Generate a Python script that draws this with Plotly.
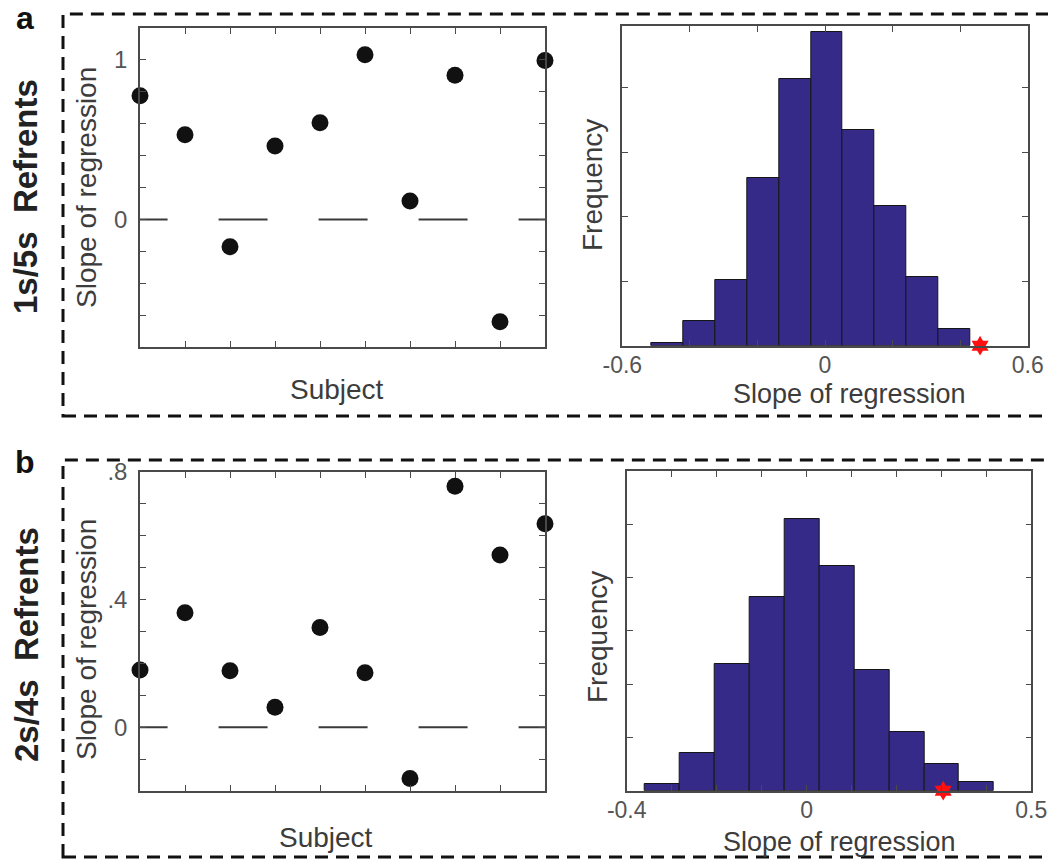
import plotly.graph_objects as go

W, H = 1048, 865

# ---------------- data ----------------
subjects = list(range(1, 11))
slopes_a = [0.775, 0.531, -0.171, 0.460, 0.606, 1.033, 0.115, 0.904, -0.642, 0.996]
slopes_b = [0.179, 0.359, 0.177, 0.0625, 0.3125, 0.171, -0.161, 0.755, 0.540, 0.6375]

hist_a_counts = [2, 19, 51, 130, 207, 243, 167, 108, 53, 13]
hist_a_lo, hist_a_hi = -0.513, 0.429
hist_a_observed = 0.459

hist_b_counts = [6, 35, 119, 182, 255, 211, 113, 55, 25, 8]
hist_b_lo, hist_b_hi = -0.359, 0.417
hist_b_observed = 0.304

row_labels = ["1s/5s  Refrents", "2s/4s  Refrents"]
panel_letters = ["a", "b"]

FONT = "Liberation Sans, Arial, Helvetica, sans-serif"
BAR_COLOR = "#352a87"
AX_COLOR = "#4a4a4a"
TXT_COLOR = "#3c3c3c"
TICK_COLOR = "#555555"


def px_x(p):
    return p / W


def px_y(p):
    return 1 - p / H


def bins(lo, hi, n):
    w = (hi - lo) / n
    return [lo + w * (i + 0.5) for i in range(n)], w


fig = go.Figure()

# ------------- domains (pixel boxes) -------------
dom = {
    "sa": ([140, 545], [28, 347]),
    "ha": ([622.3, 1027.7], [26, 345.7]),
    "sb": ([140, 545], [472, 791]),
    "hb": ([626.7, 1031.3], [471, 790.7]),
}
axes_ids = {"sa": ("x", "y"), "ha": ("x2", "y2"), "sb": ("x3", "y3"), "hb": ("x4", "y4")}

# ------------- scatter panels -------------
ZERO_LINE_START = 0.524
for key, vals in (("sa", slopes_a), ("sb", slopes_b)):
    xa, ya = axes_ids[key]
    fig.add_trace(go.Scatter(
        x=[ZERO_LINE_START, subjects[-1]], y=[0, 0], mode="lines",
        line=dict(color="#3a3a3a", width=2, dash="49px,51px"),
        xaxis=xa, yaxis=ya, showlegend=False, hoverinfo="skip"))
    fig.add_trace(go.Scatter(
        x=subjects, y=vals, mode="markers",
        marker=dict(color="#111111", size=17),
        cliponaxis=False, xaxis=xa, yaxis=ya, showlegend=False))

# ------------- histogram panels -------------
for key, counts, lo, hi, obs in (("ha", hist_a_counts, hist_a_lo, hist_a_hi, hist_a_observed),
                                 ("hb", hist_b_counts, hist_b_lo, hist_b_hi, hist_b_observed)):
    xa, ya = axes_ids[key]
    centers, w = bins(lo, hi, len(counts))
    fig.add_trace(go.Bar(
        x=centers, y=counts, width=w,
        marker=dict(color=BAR_COLOR, line=dict(color="#151515", width=1)),
        xaxis=xa, yaxis=ya, showlegend=False))
    fig.add_trace(go.Scatter(
        x=[obs], y=[0], mode="markers",
        marker=dict(symbol="hexagram", color="#ff1010", size=15, line=dict(width=0)),
        cliponaxis=False, xaxis=xa, yaxis=ya, showlegend=False))


def axis_common(font_size=24):
    return dict(showline=True, linecolor=AX_COLOR, linewidth=1.6, mirror="ticks",
                ticks="inside", ticklen=6, tickwidth=1.3, tickcolor=AX_COLOR,
                showgrid=False, zeroline=False, automargin=False,
                tickfont=dict(family=FONT, size=font_size, color=TICK_COLOR))


def dx(key):
    (x0, x1), _ = dom[key]
    return [px_x(x0), px_x(x1)]


def dy(key):
    _, (y0, y1) = dom[key]
    return [px_y(y1), px_y(y0)]


def frange(a, b, step):
    out = []
    n = int(round((b - a) / step))
    for i in range(n + 1):
        out.append(round(a + i * step, 6))
    return out


layout_axes = {}
# scatter a
ya_ticks = frange(-0.8, 1.2, 0.2)
lab_a = {0.0: "0", 1.0: "1"}
layout_axes["xaxis"] = dict(domain=dx("sa"), range=[1, 10], tickvals=subjects,
                            ticktext=[""] * 10, anchor="y", **axis_common())
layout_axes["yaxis"] = dict(domain=dy("sa"), range=[-0.8, 1.2], tickvals=ya_ticks,
                            ticktext=[lab_a.get(round(t, 1), "") for t in ya_ticks],
                            anchor="x", ticklabelstandoff=6, **axis_common())
# hist a
hxa = frange(-0.6, 0.6, 0.2)
lab_ha = {-0.6: "-0.6", 0.0: "0", 0.6: "0.6"}
layout_axes["xaxis2"] = dict(domain=dx("ha"), range=[-0.6, 0.6], tickvals=hxa,
                             ticktext=[lab_ha.get(round(t, 1), "") for t in hxa],
                             anchor="y2", ticklabelstandoff=-2, **axis_common(23))
layout_axes["yaxis2"] = dict(domain=dy("ha"), range=[0, 248], tickvals=frange(0, 250, 50),
                             showticklabels=False, anchor="x2", **axis_common())
# scatter b
yb_ticks = frange(-0.2, 0.8, 0.1)
lab_b = {0.0: "0", 0.4: ".4", 0.8: ".8"}
layout_axes["xaxis3"] = dict(domain=dx("sb"), range=[1, 10], tickvals=subjects,
                             ticktext=[""] * 10, anchor="y3", **axis_common())
layout_axes["yaxis3"] = dict(domain=dy("sb"), range=[-0.2, 0.8], tickvals=yb_ticks,
                             ticktext=[lab_b.get(round(t, 1), "") for t in yb_ticks],
                             anchor="x3", ticklabelstandoff=6, **axis_common())
# hist b
hxb = frange(-0.4, 0.5, 0.1)
lab_hb = {-0.4: "-0.4", 0.0: "0", 0.5: "0.5"}
layout_axes["xaxis4"] = dict(domain=dx("hb"), range=[-0.4, 0.5], tickvals=hxb,
                             ticktext=[lab_hb.get(round(t, 1), "") for t in hxb],
                             anchor="y4", ticklabelstandoff=-2, **axis_common(23))
layout_axes["yaxis4"] = dict(domain=dy("hb"), range=[0, 300], tickvals=frange(0, 300, 50),
                             showticklabels=False, anchor="x4", **axis_common())

fig.update_layout(**layout_axes)

# ------------- annotations -------------
ann = []


def add_text(text, x, y, size, angle=0, bold=False, color=TXT_COLOR):
    ann.append(dict(text=(f"<b>{text}</b>" if bold else text), x=px_x(x), y=px_y(y),
                    xref="paper", yref="paper", xanchor="center", yanchor="middle",
                    showarrow=False, textangle=angle,
                    font=dict(family=FONT, size=size, color=color)))


add_text(panel_letters[0], 25, 18, 32, bold=True, color="#111111")
add_text(panel_letters[1], 25, 462, 32, bold=True, color="#111111")
add_text(row_labels[0], 26, 197, 33, angle=-90, bold=True, color="#222222")
add_text(row_labels[1], 26, 645, 33, angle=-90, bold=True, color="#222222")

add_text("Slope of regression", 86, 188, 28, angle=-90)
add_text("Subject", 337, 389, 28)
add_text("Slope of regression", 86, 640, 28, angle=-90)
add_text("Subject", 326, 837, 28)

add_text("Frequency", 593, 185, 28, angle=-90)
add_text("Slope of regression", 849, 394, 27)
add_text("Frequency", 597, 637, 28, angle=-90)
add_text("Slope of regression", 839, 842, 27)

# ------------- dashed frames -------------
shapes = []
for (top, bottom) in ((14, 416), (460, 857)):
    shapes.append(dict(type="rect", xref="paper", yref="paper",
                       x0=px_x(63), x1=1.03, y0=px_y(bottom), y1=px_y(top),
                       line=dict(color="#111111", width=3, dash="13px,8px"),
                       fillcolor="rgba(0,0,0,0)", layer="above"))

fig.update_layout(
    width=W, height=H,
    margin=dict(l=0, r=0, t=0, b=0),
    paper_bgcolor="white", plot_bgcolor="white",
    annotations=ann, shapes=shapes,
    bargap=0, showlegend=False,
)

fig.write_html("out.html", config={"displayModeBar": False},
               post_script="document.body.style.margin='0';document.body.style.overflow='hidden';")
